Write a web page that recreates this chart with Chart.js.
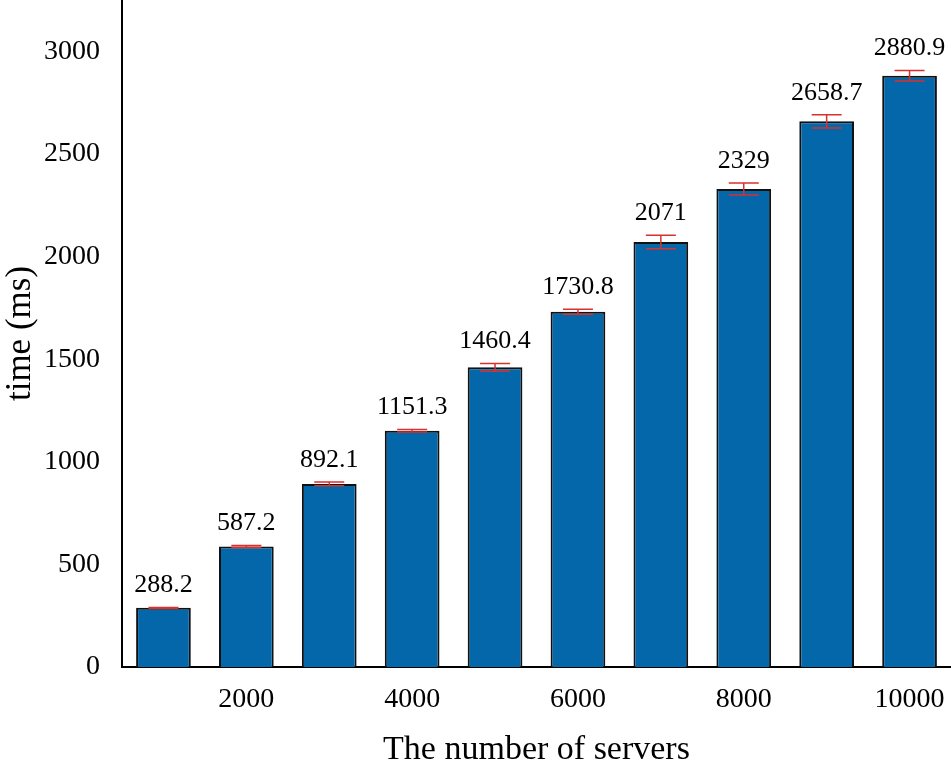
<!DOCTYPE html>
<html>
<head>
<meta charset="utf-8">
<script src="https://cdn.jsdelivr.net/npm/chart.js@4.4.0/dist/chart.umd.min.js"></script>
<style>
  html, body { margin: 0; padding: 0; background: #fff; }
  #wrap { width: 951px; height: 772px; position: relative; }
</style>
</head>
<body>
<div id="wrap"><canvas id="myChart"></canvas></div>
<script>
const servers = ['1000', '2000', '3000', '4000', '5000', '6000', '7000', '8000', '9000', '10000'];
const times = [288.2, 587.2, 892.1, 1151.3, 1460.4, 1730.8, 2071, 2329, 2658.7, 2880.9];
const errors = [2, 5, 9, 6, 19, 12, 33, 29, 32, 25];
const yTicks = [0, 500, 1000, 1500, 2000, 2500, 3000];

const serif = "'Liberation Serif', 'Times New Roman', serif";

// error bars + value labels on top of each bar
const errorBars = {
    id: 'errorBars',
    afterDatasetsDraw(chart) {
        const ctx = chart.ctx;
        const meta = chart.getDatasetMeta(0);
        const y = chart.scales.y;
        ctx.save();
        meta.data.forEach((bar, i) => {
            const top = y.getPixelForValue(times[i] + errors[i]);
            const bot = y.getPixelForValue(times[i] - errors[i]);
            ctx.strokeStyle = '#d8312f';
            ctx.lineWidth = 1.5;
            ctx.beginPath();
            ctx.moveTo(bar.x, top);
            ctx.lineTo(bar.x, bot);
            ctx.moveTo(bar.x - 15, top);
            ctx.lineTo(bar.x + 15, top);
            ctx.moveTo(bar.x - 15, bot);
            ctx.lineTo(bar.x + 15, bot);
            ctx.stroke();

            ctx.fillStyle = '#000';
            ctx.font = '26px ' + serif;
            ctx.textAlign = 'center';
            ctx.textBaseline = 'bottom';
            ctx.fillText(String(times[i]), bar.x, top - 9);
        });
        ctx.restore();
    }
};

new Chart(document.getElementById('myChart'), {
    type: 'bar',
    data: {
        labels: servers,
        datasets: [{
            data: times,
            backgroundColor: '#0467a9',
            borderColor: '#111',
            borderWidth: 2,
            barPercentage: 0.66,
            categoryPercentage: 1.0,
        }],
    },
    options: {
        responsive: true,
        maintainAspectRatio: false,
        animation: false,
        layout: { padding: 0 },
        plugins: {
            legend: { display: false },
            tooltip: { enabled: false },
        },
        scales: {
            x: {
                grid: { display: false, drawTicks: false },
                border: { display: true, color: '#000', width: 2 },
                ticks: {
                    autoSkip: false,
                    maxRotation: 0,
                    padding: 16,
                    color: '#000',
                    font: { family: serif, size: 28 },
                    callback: (v, i) => (i % 2 === 1 ? servers[i] : ''),
                },
                title: {
                    display: true,
                    text: 'The number of servers',
                    color: '#000',
                    font: { family: serif, size: 34 },
                    padding: { top: 0, bottom: 2 },
                },
                afterFit: (s) => {
                    s.height = 105;
                    s.paddingLeft = 0;
                    s.paddingRight = 0;
                },
            },
            y: {
                min: 0,
                max: 3250,
                grid: { display: false, drawTicks: false },
                border: { display: true, color: '#000', width: 2 },
                afterBuildTicks: (s) => { s.ticks = yTicks.map(v => ({ value: v })); },
                ticks: {
                    padding: 22,
                    color: '#000',
                    font: { family: serif, size: 28 },
                    callback: (v) => String(v),
                },
                title: {
                    display: true,
                    text: 'time (ms)',
                    color: '#000',
                    font: { family: serif, size: 35 },
                    padding: { top: 0, bottom: 0 },
                },
                afterFit: (s) => {
                    s.width = 122;
                    s.paddingTop = 0;
                    s.paddingBottom = 0;
                },
            },
        },
    },
    plugins: [errorBars],
});
</script>
</body>
</html>
